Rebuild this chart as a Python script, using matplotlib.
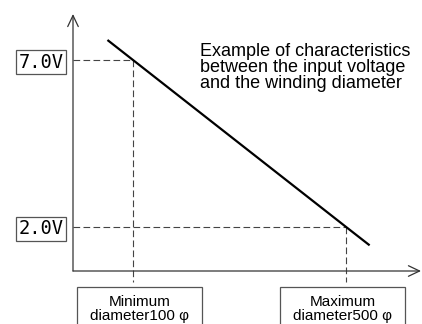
import matplotlib
matplotlib.use("Agg")
import matplotlib.pyplot as plt
import matplotlib.transforms as mtransforms
from matplotlib.patches import Rectangle

# Characteristic data: input voltage vs. winding diameter
diameters = [100, 500]
voltages = [7.0, 2.0]
voltage_labels = ["7.0V", "2.0V"]
diameter_labels = [["Minimum", "diameter100 φ"], ["Maximum", "diameter500 φ"]]
line_diameter = [52, 100, 500, 545]
line_voltage = [7.6, 7.0, 2.0, 1.44]
caption_lines = ["Example of characteristics",
                 "between the input voltage",
                 "and the winding diameter"]

W, H = 422, 324
fig = plt.figure(figsize=(W / 100, H / 100), dpi=100)


def fx(px):
    return px / W


def fy(py):
    return 1 - py / H


# Plot area: origin at the axis corner, arrows at the far ends
ax = fig.add_axes([fx(73), fy(271), fx(421) - fx(73), fy(14) - fy(271)])
ax.set_xlim(-12.8, 641.6)
ax.set_ylim(0.67, 8.38)
ax.axis("off")

axis_color = "#333333"
arrow = dict(arrowstyle="->,head_length=0.8,head_width=0.38",
             lw=0.9, color=axis_color, shrinkA=0, shrinkB=0)
ax.annotate("", xy=(1, 0), xytext=(0, 0), xycoords="axes fraction",
            arrowprops=arrow)
ax.annotate("", xy=(0, 1), xytext=(0, 0), xycoords="axes fraction",
            arrowprops=arrow)

# Guide lines from the axes to the characteristic points
x0 = ax.get_xlim()[0]
v_low = 0.34
dash = (0, (6, 3))
for d, v in zip(diameters, voltages):
    ax.plot([x0, d], [v, v], color="#444444", lw=0.8, linestyle=dash,
            clip_on=False)
    ax.plot([d, d], [v, v_low], color="#444444", lw=0.8, linestyle=dash,
            clip_on=False)

# Characteristic line
ax.plot(line_diameter, line_voltage, color="black", lw=1.6,
        solid_capstyle="butt", clip_on=False)

# Voltage labels in boxes left of the vertical axis
blend = mtransforms.blended_transform_factory(fig.transFigure, ax.transData)
for v, lab in zip(voltages, voltage_labels):
    ax.text(fx(41), v - 0.06, lab, transform=blend, ha="center", va="center",
            fontsize=13.5, family="DejaVu Sans Mono", color="black",
            bbox=dict(boxstyle="square,pad=0.13", fc="white",
                      ec="#555555", lw=0.9))

# Diameter labels in boxes below the horizontal axis
box_lefts = [77, 280]
box_width = 125
for left, lines in zip(box_lefts, diameter_labels):
    fig.patches.append(Rectangle((fx(left), fy(340)), box_width / W,
                                 fy(287) - fy(340), transform=fig.transFigure,
                                 fill=False, ec="#555555", lw=0.9))
    cx = fx(left + box_width / 2)
    for line, base in zip(lines, [306, 320]):
        fig.text(cx, fy(base), line, ha="center", va="baseline",
                 fontsize=11, family="Liberation Sans", color="black")

# Caption
for line, base in zip(caption_lines, [56, 72, 88]):
    fig.text(fx(200), fy(base), line, ha="left", va="baseline",
             fontsize=13, family="Liberation Sans", color="black")

fig.savefig("out.png", dpi=100)
